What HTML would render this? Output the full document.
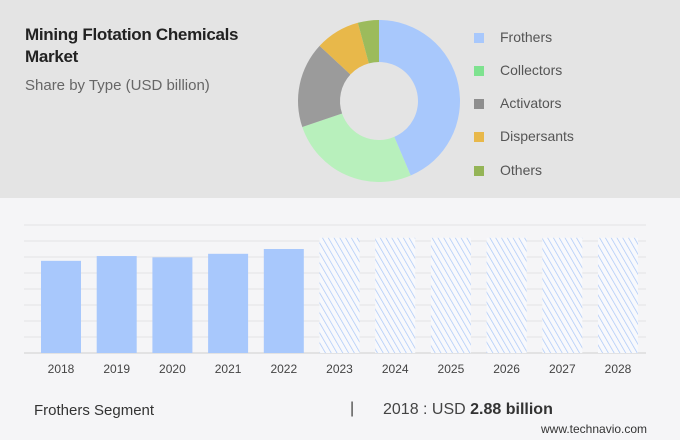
<!DOCTYPE html>
<html><head><meta charset="utf-8"><style>
body{margin:0;width:680px;height:440px;overflow:hidden;font-family:"Liberation Sans",sans-serif;background:#f5f5f7;position:relative}
.top{position:absolute;left:0;top:0;width:680px;height:198px;background:#e4e4e4}
.t{position:absolute;left:25px;top:24px;font-size:17px;font-weight:bold;color:#222;line-height:22px;letter-spacing:-0.3px}
.s{position:absolute;left:25px;top:77px;font-size:15px;color:#666}
.lg{position:absolute;left:474px;font-size:14px;color:#555}
.lg span{display:inline-block;width:10px;height:10px;margin-right:16px;vertical-align:-1px}
</style></head><body>
<div class="top"></div>
<div class="t">Mining Flotation Chemicals<br>Market</div>
<div class="s">Share by Type (USD billion)</div>
<svg id="donut" style="position:absolute;left:0;top:0" width="680" height="200"></svg>
<div class="lg" style="top:29px"><span style="background:#a8c8fc"></span>Frothers</div>
<div class="lg" style="top:62px"><span style="background:#7ee28f"></span>Collectors</div>
<div class="lg" style="top:95px"><span style="background:#8e8e8e"></span>Activators</div>
<div class="lg" style="top:128px"><span style="background:#e8b84a"></span>Dispersants</div>
<div class="lg" style="top:162px"><span style="background:#94b456"></span>Others</div>
<svg id="bars" style="position:absolute;left:0;top:200px" width="680" height="180">
<defs><pattern id="h" width="5" height="5" patternUnits="userSpaceOnUse" patternTransform="rotate(-30)"><rect width="5" height="5" fill="#f8f9fc"/><line x1="0" y1="0" x2="0" y2="5" stroke="#a8c6f7" stroke-width="1.4"/></pattern></defs>
</svg>
<div style="position:absolute;left:34px;top:402px;font-size:15px;color:#333">Frothers Segment</div>
<div style="position:absolute;left:350px;top:400px;font-size:16px;color:#444">|</div>
<div style="position:absolute;left:383px;top:401px;font-size:16px;color:#444">2018 : USD <b style="color:#333">2.88 billion</b></div>
<div style="position:absolute;left:541px;top:422px;font-size:12px;color:#333">www.technavio.com</div>
<script>
const types=['Frothers','Collectors','Activators','Dispersants','Others'];
const shares=[43.6,26.2,17.1,8.9,4.2];
const colors=['#a8c8fc','#b8f0bc','#9b9b9b','#e8b84a','#9cbb5c'];
const years=['2018','2019','2020','2021','2022','2023','2024','2025','2026','2027','2028'];
const values=[2.88,3.03,2.99,3.10,3.25,3.6,3.6,3.6,3.6,3.6,3.6];
const forecast=[false,false,false,false,false,true,true,true,true,true,true];
const NS='http://www.w3.org/2000/svg';
(function(){
const svg=document.getElementById('donut');const cx=379,cy=101,R=81,r=39;
const tot=shares.reduce((a,b)=>a+b,0);let a0=0;
shares.forEach((v,i)=>{const a1=a0+v/tot*2*Math.PI;
const p=(a,rr)=>[cx+rr*Math.sin(a),cy-rr*Math.cos(a)];
const [x1,y1]=p(a0,R),[x2,y2]=p(a1,R),[x3,y3]=p(a1,r),[x4,y4]=p(a0,r);const L=(a1-a0)>Math.PI?1:0;
const el=document.createElementNS(NS,'path');
el.setAttribute('d',`M${x1},${y1}A${R},${R} 0 ${L} 1 ${x2},${y2}L${x3},${y3}A${r},${r} 0 ${L} 0 ${x4},${y4}Z`);
el.setAttribute('fill',colors[i]);


svg.appendChild(el);a0=a1;});
})();
(function(){
const svg=document.getElementById('bars');const base=153,scale=32,x0=41,pitch=55.7,bw=40;
for(let k=0;k<=8;k++){const y=base-k*16;const l=document.createElementNS(NS,'line');
l.setAttribute('x1',24);l.setAttribute('x2',646);l.setAttribute('y1',y);l.setAttribute('y2',y);
l.setAttribute('stroke',k==0?'#cfcfcf':'#e4e4e4');


svg.appendChild(l);}
years.forEach((yr,i)=>{const h=values[i]*scale;const x=x0+i*pitch;
const b=document.createElementNS(NS,'rect');b.setAttribute('x',x);b.setAttribute('y',base-h);b.setAttribute('width',bw);b.setAttribute('height',h);
b.setAttribute('fill',forecast[i]?'url(#h)':'#a8c8fc');


svg.appendChild(b);
const t=document.createElementNS(NS,'text');t.setAttribute('x',x+bw/2);t.setAttribute('y',base+20);t.setAttribute('text-anchor','middle');
t.setAttribute('font-size','12');t.setAttribute('fill','#444');t.textContent=yr;


svg.appendChild(t);});
})();
</script>
</body></html>
